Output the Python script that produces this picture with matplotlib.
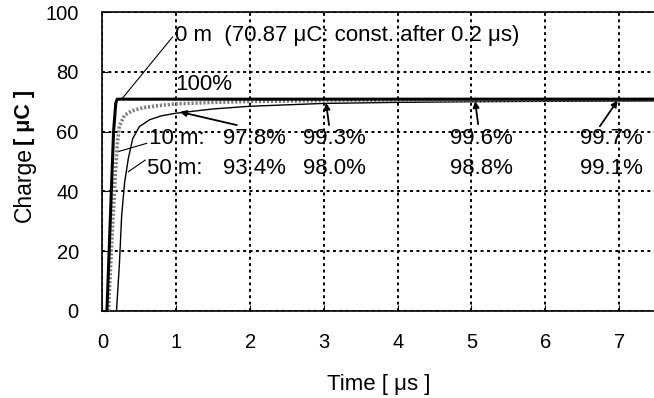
import matplotlib
matplotlib.use("Agg")
import matplotlib.pyplot as plt

plt.rcParams['font.family'] = ['Liberation Sans', 'DejaVu Sans']

# charge build-up for the three cable lengths
t_0m = [0.06, 0.15, 0.18, 0.2, 7.6]
q_0m = [0, 60, 69.5, 70.87, 70.87]

t_10m = [0.08, 0.12, 0.17, 0.2, 0.23, 0.3, 0.4, 0.55, 0.75, 1, 1.5, 2, 3, 4, 5, 6, 7, 7.6]
q_10m = [0, 20, 44, 56, 62, 65.5, 67.0, 68.0, 68.7, 69.31, 69.8, 70.1, 70.37, 70.5, 70.59, 70.63, 70.66, 70.68]

t_50m = [0.19, 0.23, 0.26, 0.3, 0.35, 0.41, 0.5, 0.64, 0.8, 1, 1.5, 2, 3, 4, 5, 6, 7, 7.6]
q_50m = [0, 16, 32, 43, 51, 57.7, 61.7, 64, 65.3, 66.19, 67.6, 68.5, 69.45, 69.8, 70.02, 70.15, 70.23, 70.27]

pct_10m = ["97.8%", "99.3%", "99.6%", "99.7%"]
pct_50m = ["93.4%", "98.0%", "98.8%", "99.1%"]
pct_x = [2.06, 3.14, 5.14, 6.9]

fs = 16

fig = plt.figure(figsize=(6.54, 3.98), dpi=100)
ax = fig.add_axes([0.1567, 0.2186, 0.8463, 0.751])

ax.plot(t_50m, q_50m, color='black', lw=1.0, zorder=3)
ax.plot(t_10m, q_10m, color='0.5', lw=2.6, ls=(0, (0.6, 0.5)), zorder=4)
ax.plot(t_0m, q_0m, color='black', lw=2.2, zorder=5)

ax.set_xlim(0, 7.5)
ax.set_ylim(0, 100)
ax.set_xticks(range(0, 8))
ax.set_yticks(range(0, 101, 20))
ax.grid(True, color='black', ls=(0, (1.5, 1.8)), lw=1.4)
ax.tick_params(direction='in', length=4, labelsize=14.5, color='black')
ax.tick_params(axis='x', pad=15.5)
ax.tick_params(axis='y', pad=17)
ax.spines['right'].set_visible(False)
for s in ['left', 'bottom', 'top']:
    ax.spines[s].set_linewidth(1.2)

# labels and leader lines
ax.text(0.98, 92.1, "0 m  (70.87 \u03bcC: const. after 0.2 \u03bcs)", fontsize=fs, va='center', ha='left')
ax.plot([0.95, 0.26], [91.7, 70.87], color='black', lw=0.8)
ax.text(0.98, 75.8, "100%", fontsize=fs, va='center', ha='left')

ax.text(0.63, 57.7, "10 m:", fontsize=fs, va='center', ha='left')
ax.plot([0.6, 0.21], [56.1, 53.3], color='black', lw=0.8)
ax.text(0.6, 47.8, "50 m:", fontsize=fs, va='center', ha='left')
ax.plot([0.58, 0.35], [50.5, 46.6], color='black', lw=0.8)

for x, a, b in zip(pct_x, pct_10m, pct_50m):
    ax.text(x, 57.7, a, fontsize=fs, va='center', ha='center')
    ax.text(x, 47.8, b, fontsize=fs, va='center', ha='center')

# arrows from the percent labels to the curves
arrow_from = [(1.82, 62.2), (3.07, 62.2), (5.09, 62.5), (6.74, 61.8)]
arrow_to = [(1.05, 66.6), (3.03, 69.6), (5.05, 70.2), (6.98, 70.4)]
for (x0, y0), (x1, y1) in zip(arrow_from, arrow_to):
    ax.annotate("", xy=(x1, y1), xytext=(x0, y0),
                arrowprops=dict(arrowstyle='-|>', color='black', lw=1.3,
                                mutation_scale=9, shrinkA=0, shrinkB=0))

ax.set_xlabel("Time [ \u03bcs ]", fontsize=16, labelpad=16)
fig.text(0.038, 0.537, "Charge", rotation=90, fontsize=16.5, ha='center', va='center')
fig.text(0.038, 0.706, "[ \u03bcC ]", rotation=90, fontsize=15.5, fontweight='bold', ha='center', va='center')

fig.savefig("out.png", dpi=100)
